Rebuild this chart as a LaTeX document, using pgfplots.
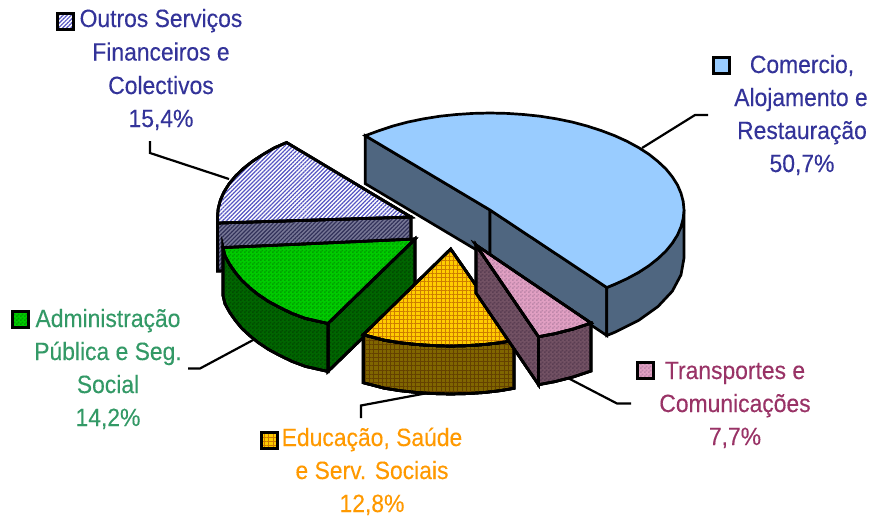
\documentclass[border=0pt]{standalone}
\usepackage{pgfplots}
\pgfplotsset{compat=1.18}
\usepackage{fontspec}
\setmainfont[FakeStretch=0.915,FakeBold=0.25]{Liberation Sans}
\usetikzlibrary{patterns,patterns.meta}
\pgfdeclarepatternformonly{chk}{\pgfqpoint{0pt}{0pt}}{\pgfqpoint{4pt}{4pt}}{\pgfqpoint{4pt}{4pt}}{%
  \pgfpathrectangle{\pgfqpoint{0pt}{0pt}}{\pgfqpoint{2pt}{2pt}}%
  \pgfpathrectangle{\pgfqpoint{2pt}{2pt}}{\pgfqpoint{2pt}{2pt}}%
  \pgfusepath{fill}}
\definecolor{cblue}{HTML}{333399}
\definecolor{cmaroon}{HTML}{993366}
\definecolor{corange}{HTML}{FF9900}
\definecolor{cgreen}{HTML}{339966}
\tikzset{
 base/.style={draw=black,line width=2.7pt,line join=miter,miter limit=10},
 bluetop/.style={base,fill={rgb,255:red,153;green,204;blue,255}},
 bluewall/.style={base,fill={rgb,255:red,79;green,102;blue,128}},
 purptop/.style={base,preaction={fill=white},preaction={pattern={Lines[angle=45,distance=2.9pt,line width=1.2pt]},pattern color={rgb,255:red,85;green,85;blue,195}}},
 purpwall/.style={base,preaction={fill={rgb,255:red,120;green,120;blue,150}},preaction={pattern={Lines[angle=45,distance=2.9pt,line width=1.2pt]},pattern color={rgb,255:red,50;green,50;blue,90}}},
 greentop/.style={base,preaction={fill={rgb,255:red,0;green,204;blue,0}},preaction={pattern=chk,pattern color={rgb,255:red,0;green,160;blue,0}}},
 greenwall/.style={base,preaction={fill={rgb,255:red,0;green,102;blue,0}},preaction={pattern=chk,pattern color={rgb,255:red,0;green,75;blue,0}}},
 yeltop/.style={base,preaction={fill={rgb,255:red,255;green,204;blue,0}},preaction={pattern={Lines[angle=0,distance=4.2pt,line width=.8pt]},pattern color={rgb,255:red,205;green,125;blue,0}},preaction={pattern={Lines[angle=90,distance=4.2pt,line width=.8pt]},pattern color={rgb,255:red,205;green,125;blue,0}}},
 yelwall/.style={base,preaction={fill={rgb,255:red,128;green,102;blue,0}},preaction={pattern={Lines[angle=0,distance=4.2pt,line width=.8pt]},pattern color={rgb,255:red,100;green,65;blue,0}},preaction={pattern={Lines[angle=90,distance=4.2pt,line width=.8pt]},pattern color={rgb,255:red,100;green,65;blue,0}}},
 pinktop/.style={base,preaction={fill={rgb,255:red,225;green,160;blue,195}},preaction={pattern=chk,pattern color={rgb,255:red,190;green,135;blue,170}}},
 pinkwall/.style={base,preaction={fill={rgb,255:red,115;green,82;blue,100}},preaction={pattern=chk,pattern color={rgb,255:red,90;green,62;blue,82}}},
 leader/.style={draw=black,line width=2.2pt,line join=miter},
 key/.style={line width=3pt},
}
\newcommand{\lab}[4]{\node[anchor=base,inner sep=0pt,text=#4,font=\fontsize{25}{30}\selectfont] at (axis cs:#1,#2) {#3};}
\begin{document}
\begin{tikzpicture}
\begin{axis}[
  hide axis, scale only axis, width=870pt, height=517pt,
  xmin=0, xmax=870, ymin=0, ymax=517, y dir=reverse, clip=false,
  every axis plot/.append style={mark=none},
]
% full frame, invisible, so that the page has the reference's size
\addplot[draw=none,forget plot] coordinates {(0,0) (870,517)};
% leaders
\addplot[leader] coordinates {(642,148) (695,115) (708,115)};
\addplot[leader] coordinates {(150,141) (150,153) (229,179)};
\addplot[leader] coordinates {(255,339) (200,368.5) (188,368.5)};
\addplot[leader] coordinates {(566,377) (617,403.5) (631,403.5)};
\addplot[leader] coordinates {(433,392) (361,405.5) (361,418)};
% Comercio
\addplot[bluewall] coordinates {(365.3,135.7) (490,210) (490,258) (365.3,183.7)} -- cycle;
\addplot[bluewall] coordinates {(490,210) (606.8,287.5) (606.8,335.5) (490,258)} -- cycle;
\addplot[bluewall] coordinates {(606.8,287.5) (614.7,284.3) (638.6,272.4) (658,258.5) (672.3,243.2) (681,226.8) (684,210)
  (684,258) (681,274.8) (672.3,291.2) (658,306.5) (638.6,320.4) (614.7,332.3) (606.8,335.5)} -- cycle;
\addplot[bluetop] coordinates {(490,210) (365.3,135.7) (378,131) (393,126) (408,122) (423.7,118.8) (440,116.2) (456.3,114.5) (473,113.4) (490,113)
  (507,113.4) (523.7,114.5) (540,116.2) (556.3,118.8) (572,122) (587,126) (601,130.5) (614.7,135.7) (627,141.3) (638.6,147.6) (649,154.3) (658,161.5) (666,169) (672.3,176.8) (677.5,185) (681,193.2) (683.2,201.5) (684,210)
  (683.2,218.5) (681,226.8) (677.5,235) (672.3,243.2) (666,251) (658,258.5) (649,265.7) (638.6,272.4) (627,278.7) (614.7,284.3) (606.8,287.5)} -- cycle;
% Outros
\addplot[purpwall] coordinates {(217.5,223) (411,217) (411,265) (217.5,271)} -- cycle;
\addplot[purptop] coordinates {(411,217) (286.6,142.5) (274,148) (262.8,154.6) (252.5,161.3) (243.4,168.5) (235.6,176) (229.1,183.8) (224,192) (220.4,200.1) (218.2,208.5) (217.5,217) (217.5,223)} -- cycle;
% Administracao
\addplot[greenwall] coordinates {(415,239) (328,323.5) (328,371.5) (415,287)} -- cycle;
\addplot[greenwall] coordinates {(223,247.6) (225,255.8) (229.5,264.1) (235,272) (241.5,280) (249.5,287.5) (258.4,294.7) (268.6,301.5) (280,307.6) (292,313.4) (305.4,318.4) (328,323.5)
  (328,371.5) (305.4,366.4) (292,361.4) (280,355.6) (268.6,349.5) (258.4,342.7) (249.5,335.5) (241.5,328) (235,320) (229.5,312.1) (225,303.8) (223,295.6)} -- cycle;
\addplot[greentop] coordinates {(415,239) (223,247.6) (225,255.8) (229.5,264.1) (235,272) (241.5,280) (249.5,287.5) (258.4,294.7) (268.6,301.5) (280,307.6) (292,313.4) (305.4,318.4) (328,323.5)} -- cycle;
% Educacao
\addplot[yelwall] coordinates {(363.3,334.7) (384.3,340.2) (400,342.7) (417,344.5) (434,345.6) (450.7,346) (467.5,345.6) (484.4,344.5) (500,342.7) (514,340.3)
  (514,388.3) (500,390.7) (484.4,392.5) (467.5,393.6) (450.7,394) (434,393.6) (417,392.5) (400,390.7) (384.3,388.2) (363.3,382.7)} -- cycle;
\addplot[yeltop] coordinates {(450.7,249) (514,340.3) (500,342.7) (484.4,344.5) (467.5,345.6) (450.7,346) (434,345.6) (417,344.5) (400,342.7) (384.3,340.2) (363.3,334.7)} -- cycle;
% Transportes
\addplot[pinkwall] coordinates {(476,245) (538.5,336.7) (538.5,384.7) (476,293)} -- cycle;
\addplot[pinkwall] coordinates {(538.5,336.7) (555,333.6) (573,329) (591,323) (591,371) (573,377) (555,381.6) (538.5,384.7)} -- cycle;
\addplot[pinktop] coordinates {(476,245) (591,323) (573,329) (555,333.6) (538.5,336.7)} -- cycle;
% legend keys
\addplot[bluetop,key] coordinates {(713,57) (729,57) (729,73) (713,73)} -- cycle;
\addplot[purptop,key] coordinates {(57,13) (73,13) (73,29) (57,29)} -- cycle;
\addplot[greentop,key] coordinates {(12,311) (28,311) (28,327) (12,327)} -- cycle;
\addplot[yeltop,key] coordinates {(261,432) (277,432) (277,448) (261,448)} -- cycle;
\addplot[pinktop,key] coordinates {(637,362) (653,362) (653,378) (637,378)} -- cycle;
% labels
\lab{161}{27}{Outros Serviços}{cblue}
\lab{161}{60.5}{Financeiros e}{cblue}
\lab{161}{94}{Colectivos}{cblue}
\lab{161}{127}{15,4\%}{cblue}
\lab{802}{73}{Comercio,}{cblue}
\lab{801}{106}{Alojamento e}{cblue}
\lab{802}{139}{Restauração}{cblue}
\lab{802}{172}{50,7\%}{cblue}
\lab{735}{379}{Transportes e}{cmaroon}
\lab{735}{412}{Comunicações}{cmaroon}
\lab{735}{445}{7,7\%}{cmaroon}
\lab{372}{446}{Educação, Saúde}{corange}
\lab{372}{479}{e Serv. Sociais}{corange}
\lab{372}{512}{12,8\%}{corange}
\lab{108}{327}{Administração}{cgreen}
\lab{108}{360}{Pública e Seg.}{cgreen}
\lab{108}{393}{Social}{cgreen}
\lab{108}{426}{14,2\%}{cgreen}
\end{axis}
\end{tikzpicture}
\end{document}
